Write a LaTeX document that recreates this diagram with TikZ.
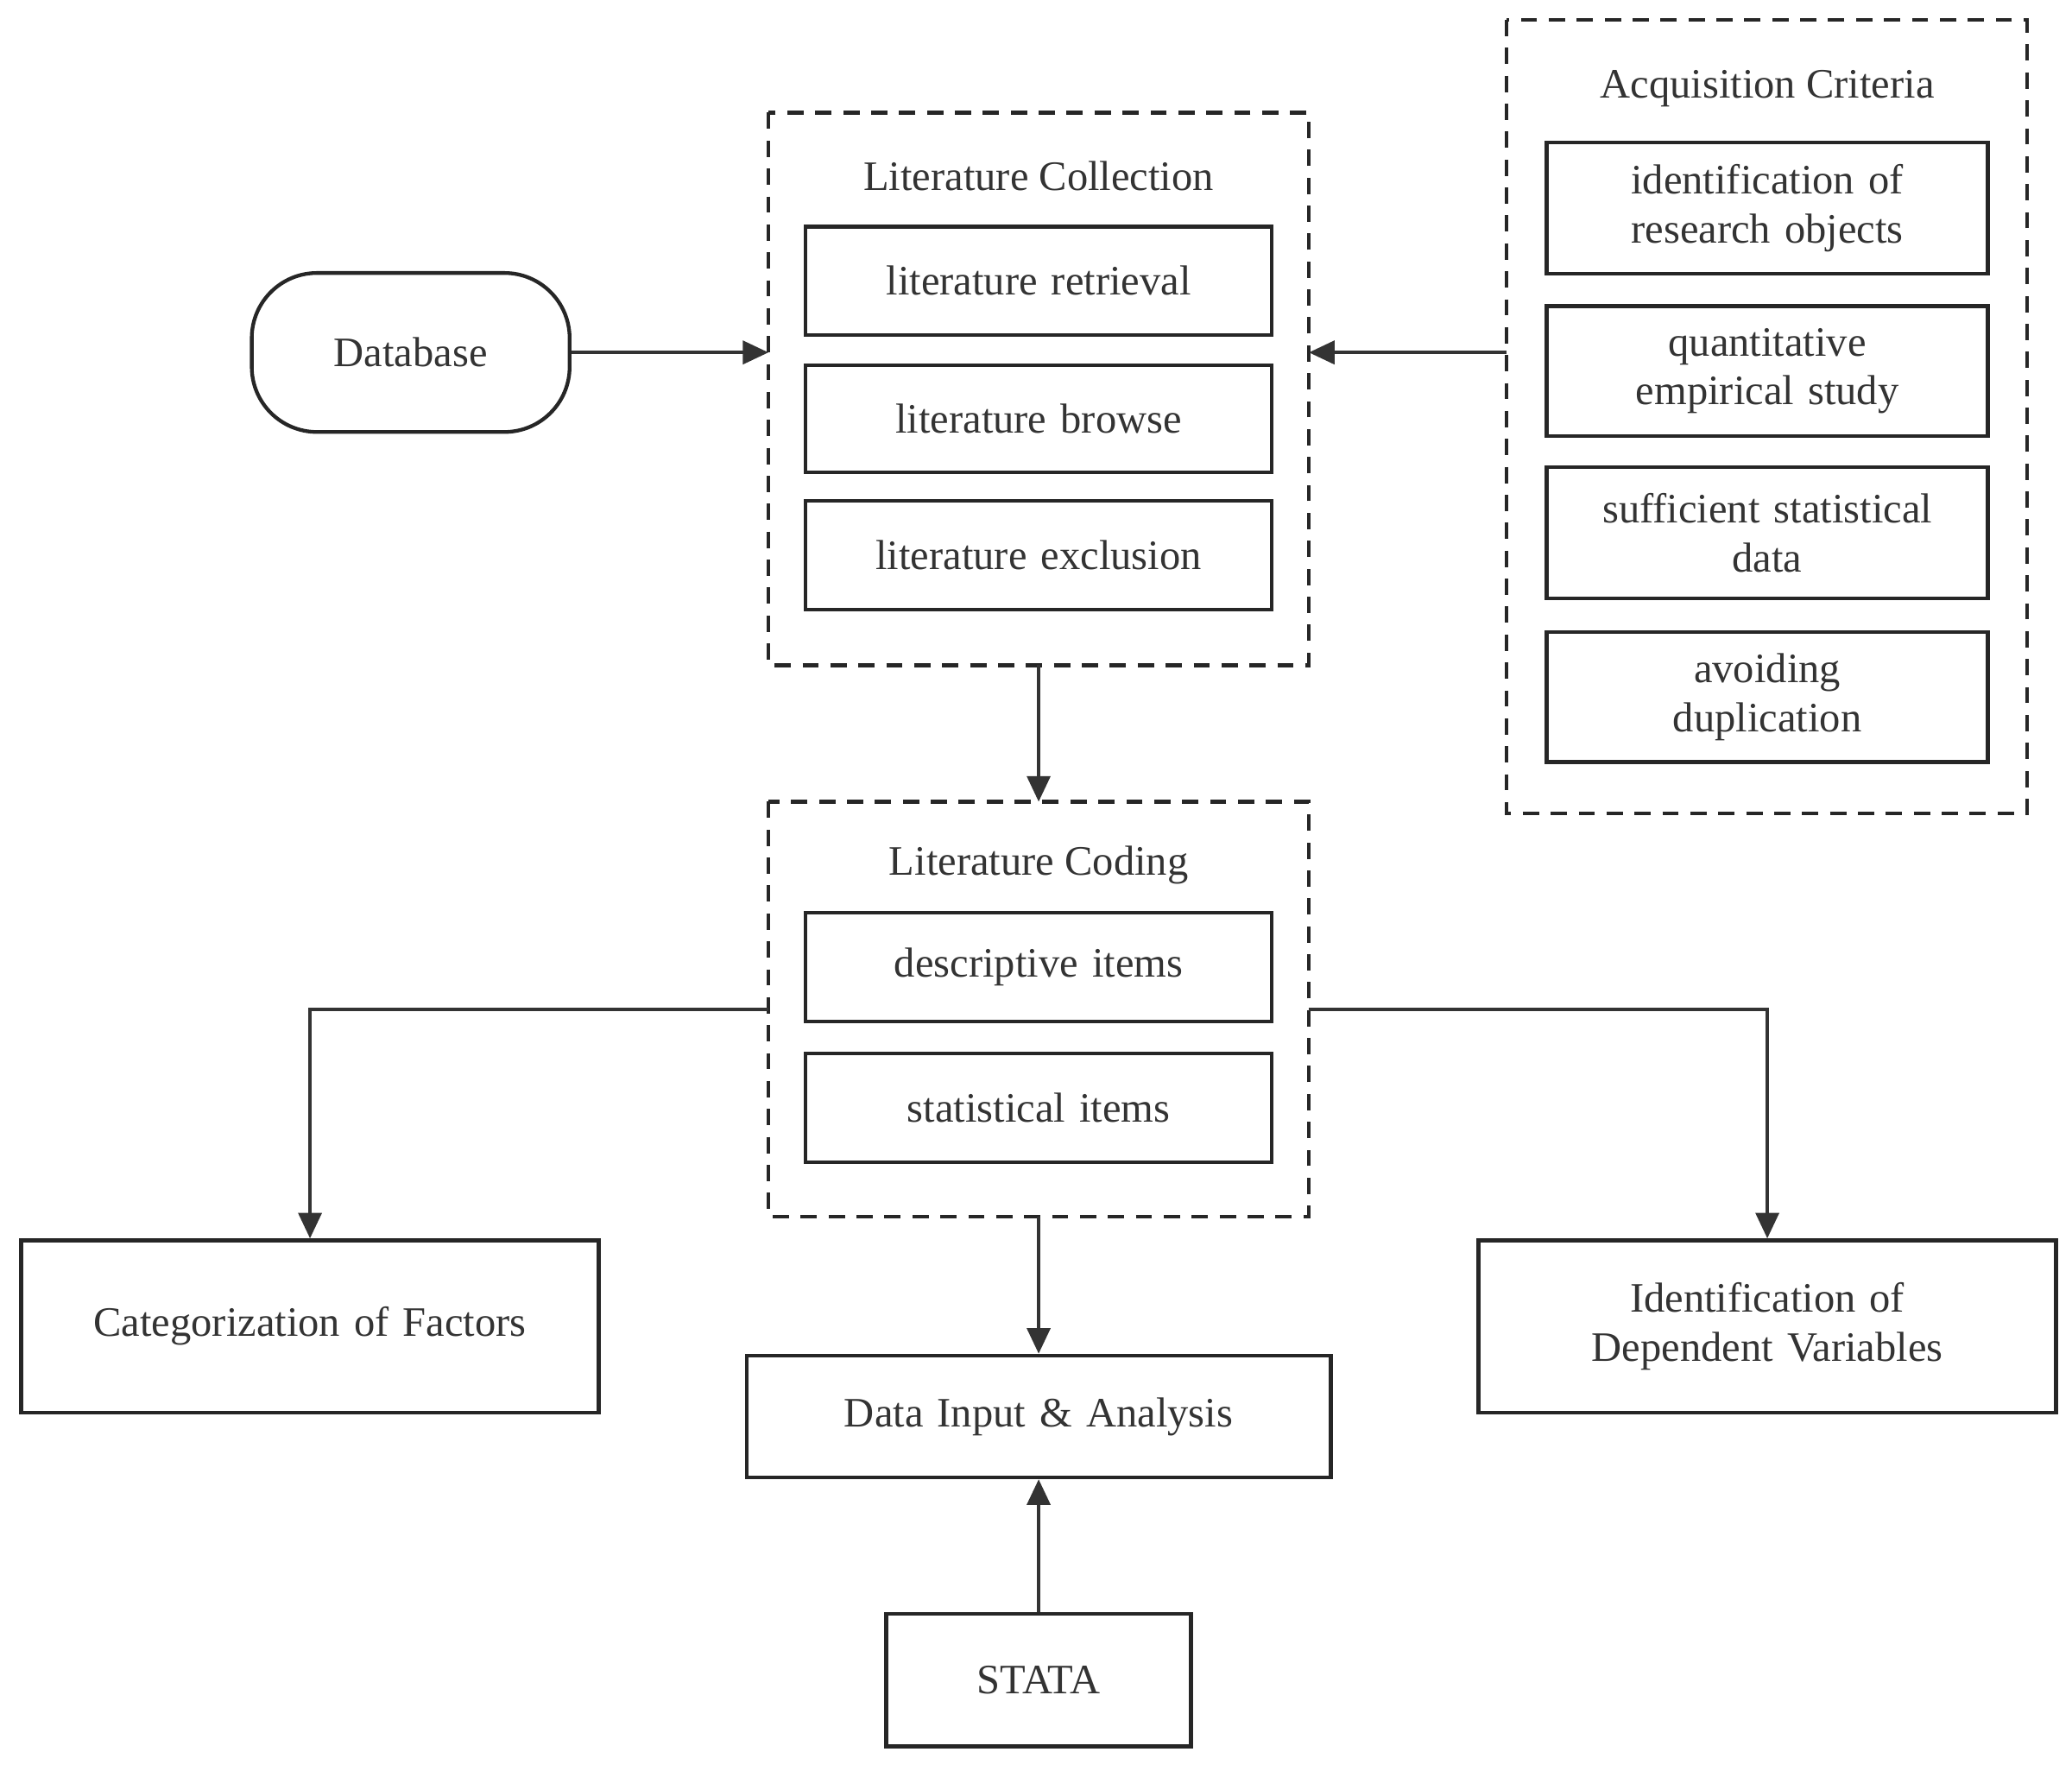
\documentclass[tikz,border=0pt]{standalone}
\usepackage{fontspec}
\setmainfont{Liberation Serif}
\usetikzlibrary{arrows.meta}
\usetikzlibrary{positioning}
\begin{document}
\begin{tikzpicture}[x=0.02cm,y=-0.02cm,
    every node/.style={font=\fontsize{18}{21}\selectfont, text=black!80},
    item/.style={draw=black!85, line width=1.6pt, inner sep=0pt, align=center, text width=#1},
    group/.style={draw=black!85, line width=1.6pt, dashed, dash pattern=on 7pt off 5pt},
    link/.style={draw=black!80, line width=1.4pt, -{Triangle[length=11pt,width=10pt]}}]
    \useasboundingbox (0,0) rectangle (1564,1336);
    % groups
    \draw[group] (580,85) rectangle (988,502);
    \draw[group] (1137,15) rectangle (1530,614);
    \draw[group] (580,605) rectangle (988,918);
    \coordinate (colW) at (580,266);
    \coordinate (colE) at (988,266);
    \coordinate (colS) at (784,502);
    \coordinate (accW) at (1137,266);
    \coordinate (codN) at (784,605);
    \coordinate (codS) at (784,918);
    \coordinate (codW) at (580,762);
    \coordinate (codE) at (988,762);
    \node at (784,133) {Literature Collection};
    \node at (1334,67) {Acquisition Criteria};
    \node at (784,653) {Literature Coding};
    % boxes
    \node[draw=black!85, line width=1.6pt, rounded corners=28pt, minimum width=240\pgflinewidth/1.6pt*0.02cm, minimum width=4.8cm, minimum height=2.4cm] (db) at (310,266) {Database};
    \foreach \nm/\y/\h/\t in {ret/212/82/literature retrieval, bro/316/81/literature browse, exc/419/82/literature exclusion}
        \node[item=7.04cm, minimum height=\h*0.02cm] (\nm) at (784,\y) {\t};
    \foreach \nm/\y/\h/\t in {ac1/157/99/identification of\\research objects, ac2/280/98/quantitative\\empirical study, ac3/402/99/sufficient statistical\\data, ac4/526/98/avoiding\\duplication}
        \node[item=6.66cm, minimum height=\h*0.02cm] (\nm) at (1334,\y) {\t};
    \node[item=7.04cm, minimum height=1.64cm] (des) at (784,730) {descriptive items};
    \node[item=7.04cm, minimum height=1.64cm] (sta) at (784,836) {statistical items};
    \node[item=8.72cm, minimum height=2.6cm] (cat) at (234,1001) {Categorization of Factors};
    \node[item=8.82cm, minimum height=1.84cm] (dat) at (784,1069) {Data Input \& Analysis};
    \node[item=8.72cm, minimum height=2.6cm] (idv) at (1334,1001) {Identification of\\Dependent Variables};
    \node[item=4.6cm, minimum height=2cm] (stata) at (784,1268) {STATA};
    % connectors
    \draw[link] (db) -- (colW);
    \draw[link] (accW) -- (colE);
    \draw[link] (colS) -- (codN);
    \draw[link] (codW) -| (cat);
    \draw[link] (codE) -| (idv);
    \draw[link] (codS) -- (dat);
    \draw[link] (stata) -- (dat);
\end{tikzpicture}
\end{document}
